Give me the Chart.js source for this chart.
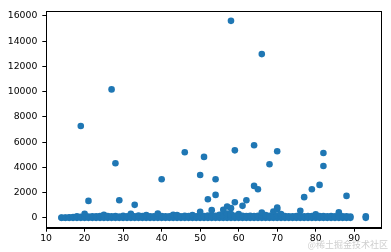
<!DOCTYPE html>
<html>
<head>
<meta charset="utf-8">
<script src="https://cdn.jsdelivr.net/npm/chart.js@4/dist/chart.umd.min.js"></script>
<style>
html,body{margin:0;padding:0;background:#fff;}
#wrap{width:391px;height:252px;position:relative;}
</style>
</head>
<body>
<div id="wrap"><canvas id="c" width="391" height="252"></canvas></div>
<script>
// Age (x) and amount (y) pairs
const ages = [
  14,14, 15,15, 16,16, 17,17, 18,18,
  19,19,19, 20,20,20, 21,21,21, 22,22, 23,23, 24,24,
  25,25,25, 26,26, 27,27,27, 28,28,28, 29,29,29, 30,30,
  31,31, 32,32,32, 33,33,33, 34,34, 35,35, 36,36,36,
  37,37, 38,38, 39,39,39, 40,40,40, 41,41, 42,42,
  43,43,43, 44,44,44, 45,45, 46,46,46, 47,47, 48,48,48,
  49,49, 50,50,50,50, 51,51,51, 52,52,52, 53,53,53,
  54,54,54,54, 55,55,55, 56,56,56, 57,57,57,57,
  58,58,58,58,58, 59,59,59,59, 60,60,60, 61,61,61,
  62,62,62, 63,63, 64,64,64,64, 65,65,65, 66,66,66,66,
  67,67,67, 68,68,68, 69,69,69, 70,70,70,70,70, 71,71,71,
  72,72, 73,73, 74,74, 75,75, 76,76,76, 77,77,77, 78,78,
  79,79,79, 80,80,80, 81,81,81, 82,82,82,82, 83,83, 84,84,
  85,85, 86,86,86, 87,87, 88,88,88, 89,89, 93,93
];
const amounts = [
  0,20, 0,30, 0,40, 0,60, 0,120,
  0,90,7280, 0,140,316, 0,100,1345, 0,130, 0,120, 0,150,
  0,100,237, 0,140, 0,120,10180, 0,150,4330, 0,110,1400, 0,160,
  0,130, 0,150,316, 0,120,1030, 0,180, 0,140, 0,150,230,
  0,130, 0,120, 0,170,340, 0,150,3060, 0,130, 0,120,
  0,160,250, 0,140,220, 0,130, 0,170,5200, 0,150, 0,140,230,
  0,120, 0,160,475,3400, 0,140,4830, 0,180,1480, 0,150,610,
  0,160,1820,3060, 0,140,250, 0,170,630, 0,200,350,895,
  0,180,300,770,15610, 0,160,1240,5350, 0,150,300, 0,170,950,
  0,140,1400, 0,160, 0,150,2530,5750, 0,170,2270, 0,180,420,12975,
  0,140,230, 0,160,4250, 0,150,500, 0,180,690,815,5280, 0,160,300,
  0,140, 0,130, 0,120, 0,140, 0,150,560, 0,130,1640, 0,140,
  0,150,2270, 0,160,290, 0,140,2610, 0,150,4110,5140, 0,130, 0,140,
  0,120, 0,150,450, 0,130, 0,120,1740, 0,100, 0,120
];
const xTicks = [10,20,30,40,50,60,70,80,90];
const yTicks = [0,2000,4000,6000,8000,10000,12000,14000,16000];
const watermark = '@稀土掘金技术社区';

const points = ages.map((a,i)=>({x:a, y:amounts[i]}));
const font = {family:'"DejaVu Sans", sans-serif', size:9.3};

const framePlugin = {
  id:'frame',
  afterDraw(chart){
    const {ctx, chartArea:a} = chart;
    ctx.save();
    ctx.strokeStyle = '#000';
    ctx.lineWidth = 1;
    ctx.strokeRect(Math.round(a.left)+0.5, Math.round(a.top)+0.5, Math.round(a.right-a.left), Math.round(a.bottom-a.top));
    ctx.fillStyle = 'rgba(190,190,190,0.75)';
    ctx.font = '9px "Noto Sans CJK SC", sans-serif';
    ctx.textAlign = 'right';
    ctx.textBaseline = 'middle';
    ctx.fillText(watermark, 388, 245);
    ctx.restore();
  }
};

new Chart(document.getElementById('c'), {
  type:'scatter',
  data:{datasets:[{data:points, backgroundColor:'#1f77b4', borderColor:'#1f77b4', pointRadius:3.3, pointHoverRadius:3.3, borderWidth:0}]},
  options:{
    responsive:false, animation:false,
    plugins:{legend:{display:false}, tooltip:{enabled:false}},
    layout:{padding:{top:11, right:10, left:0, bottom:0}},
    scales:{
      x:{
        type:'linear', min:10.05, max:96.95,
        afterBuildTicks(s){ s.ticks = xTicks.map(v=>({value:v})); },
        afterFit(s){ s.height = 24.3; },
        grid:{display:true, drawOnChartArea:false, drawTicks:true, tickLength:4, color:'#000'},
        border:{display:true, color:'#000', width:1},
        ticks:{color:'#000', font, padding:1, maxRotation:0, autoSkip:false, callback:(v)=>String(v)}
      },
      y:{
        type:'linear', min:-780, max:16390,
        afterBuildTicks(s){ s.ticks = yTicks.map(v=>({value:v})); },
        afterFit(s){ s.width = 46.3; },
        grid:{display:true, drawOnChartArea:false, drawTicks:true, tickLength:4, color:'#000'},
        border:{display:true, color:'#000', width:1},
        ticks:{color:'#000', font, padding:5, autoSkip:false, callback:(v)=>String(v)}
      }
    }
  },
  plugins:[framePlugin]
});
</script>
</body>
</html>
